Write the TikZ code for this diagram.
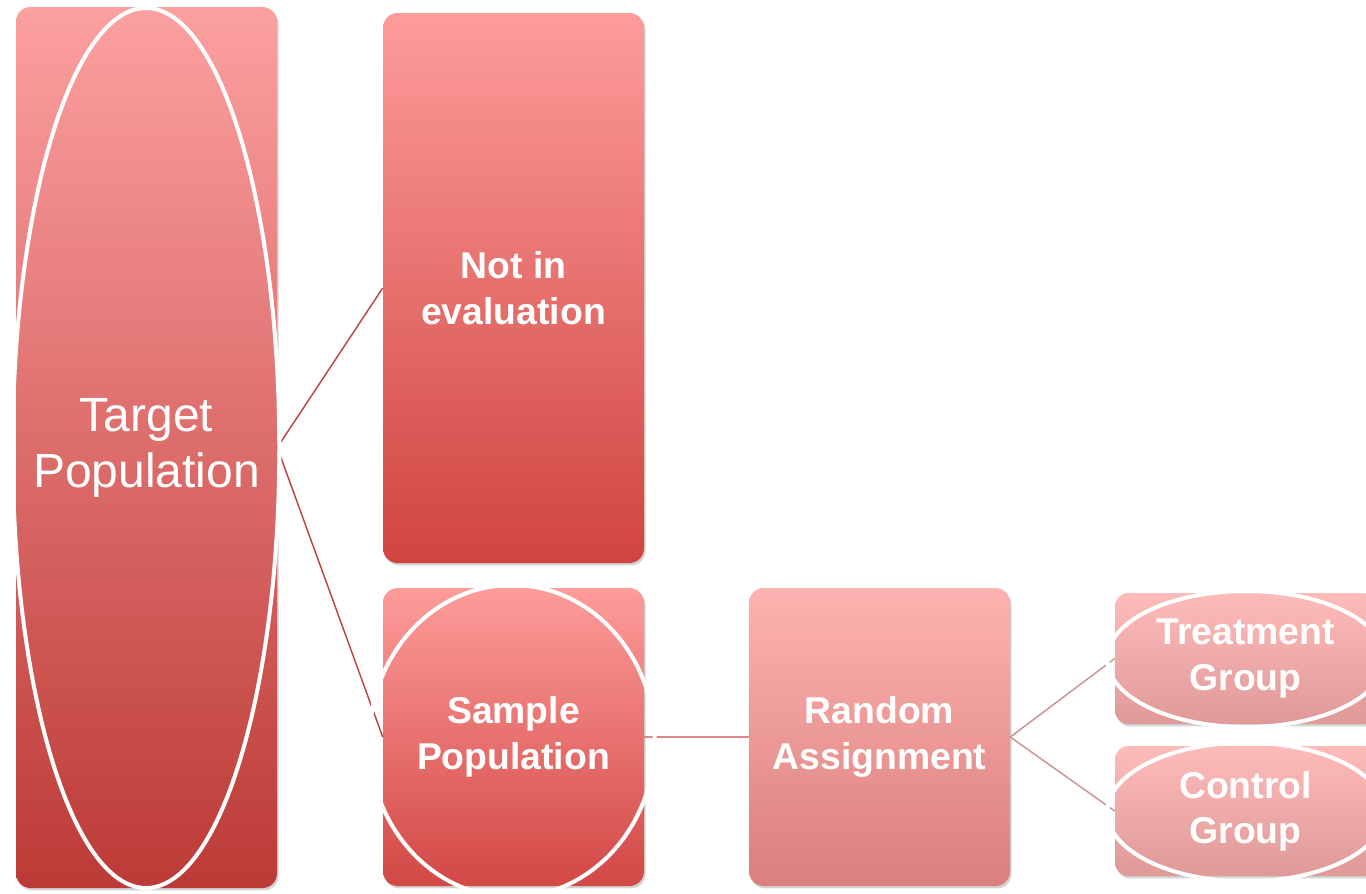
\documentclass[tikz,border=0pt]{standalone}
\usepackage{fontspec}
\setmainfont{Liberation Sans}
\usetikzlibrary{shadows}
\definecolor{tTop}{HTML}{FCA0A0}
\definecolor{tBot}{HTML}{BC3A36}
\definecolor{nTop}{HTML}{FD9C9A}
\definecolor{nBot}{HTML}{D04440}
\definecolor{sBot}{HTML}{D24845}
\definecolor{rTop}{HTML}{FDB3B1}
\definecolor{rBot}{HTML}{DA7F7D}
\definecolor{gTop}{HTML}{FDBBB9}
\definecolor{gBot}{HTML}{DF9A98}
\definecolor{lineA}{HTML}{BD4543}
\definecolor{lineB}{HTML}{D88A88}
\definecolor{lineC}{HTML}{CF9290}
\tikzset{
  box/.style={rounded corners=11pt, minimum width=195.75pt, inner sep=0pt,
    text=white, align=center,
    drop shadow={opacity=0.35, shadow xshift=1.2pt, shadow yshift=-1.8pt, fill=gray}},
  boldtxt/.style={font=\fontsize{28}{34}\selectfont\bfseries},
  ring/.style={draw=white, line width=3pt},
}
\begin{document}
\begin{tikzpicture}[x=0.75pt, y=-0.75pt]
\useasboundingbox (0,0) rectangle (1366,893);
\clip (0,0) rectangle (1366,893);
% boxes
\node[box, minimum height=660.75pt, top color=tTop, bottom color=tBot,
  font=\fontsize{36}{42}\selectfont] (T) at (146.5,447.5) {Target\\Population};
\node[box, boldtxt, minimum height=412.5pt, top color=nTop, bottom color=nBot] (N) at (513.5,288) {Not in\\evaluation};
\node[box, boldtxt, minimum height=223.5pt, top color=nTop, bottom color=sBot] (S) at (513.5,737) {Sample\\Population};
\node[box, boldtxt, minimum height=223.5pt, top color=rTop, bottom color=rBot] (R) at (879.5,737) {Random\\Assignment};
\node[box, boldtxt, rounded corners=10pt, minimum height=98.25pt, top color=gTop, bottom color=gBot] (TG) at (1245.5,658.5) {Treatment\\Group};
\node[box, boldtxt, rounded corners=10pt, minimum height=97.5pt, top color=gTop, bottom color=gBot] (CG) at (1245.5,811) {Control\\Group};
% connectors
\draw[lineA, line width=1.1pt] (N.west) -- (T.east) -- (S.west);
\draw[lineB, line width=1.1pt] (S.east) -- (R.west);
\draw[lineC, line width=1.1pt] (TG.west) -- (R.east) -- (CG.west);
% ellipses
\draw[ring] (146,448) ellipse [x radius=100pt, y radius=330pt];
\draw[ring] (512,741) ellipse [x radius=107pt, y radius=117pt];
\draw[ring] (1246,659) ellipse [x radius=104pt, y radius=51pt];
\draw[ring] (1246,812) ellipse [x radius=104pt, y radius=52pt];
\end{tikzpicture}
\end{document}
